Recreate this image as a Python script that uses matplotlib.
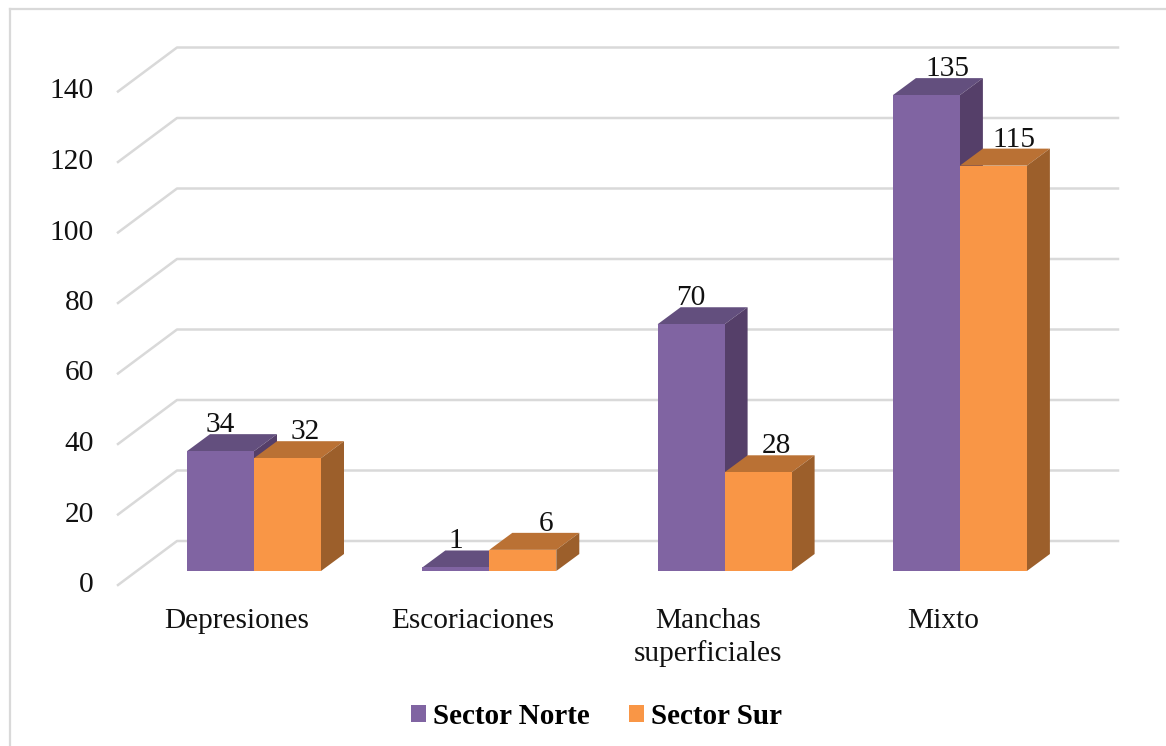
import matplotlib
matplotlib.use("Agg")
import matplotlib.pyplot as plt
from matplotlib.patches import Patch

categories = ["Depresiones", "Escoriaciones", "Manchas\nsuperficiales", "Mixto"]
sector_norte = [34, 1, 70, 135]
sector_sur = [32, 6, 28, 115]
y_ticks = [0, 20, 40, 60, 80, 100, 120, 140]

WIDTH, HEIGHT = 1166, 746
BASE_Y = 571     # pixel row of value 0 on the bar fronts
FIRST_X = 254    # pixel column of the first category centre
CAT_W = 235.3    # pixels per category
VAL_H = 3.525    # pixels per unit of value
FONT_SIZE = 21.2


def px_x(n):
    return n / CAT_W


def px_y(n):
    return n / VAL_H


def draw_bar(ax, x, val, width, front, top, side):
    dx, dy = px_x(23), px_y(17)
    left, right = x - width / 2, x + width / 2
    ax.fill([left, right, right + dx, left + dx],
            [val, val, val + dy, val + dy], color=top, lw=0, zorder=3)
    ax.fill([right, right + dx, right + dx, right],
            [0, dy, val + dy, val], color=side, lw=0, zorder=3)
    ax.bar(x, val, width, color=front, lw=0, zorder=3)


plt.rcParams["font.family"] = ["Liberation Serif", "DejaVu Serif"]
fig = plt.figure(figsize=(WIDTH / 100, HEIGHT / 100), dpi=100)
ax = fig.add_axes([0, 0, 1, 1])
ax.set_xlim(-FIRST_X / CAT_W, (WIDTH - FIRST_X) / CAT_W)
ax.set_ylim((BASE_Y - HEIGHT) / VAL_H, BASE_Y / VAL_H)
ax.axis("off")

# outer chart frame, only left and top are inside the picture
frame = "#D9D9D9"
ax.plot([px_x(10 - FIRST_X)] * 2, [px_y(BASE_Y - HEIGHT), px_y(BASE_Y - 9)], color=frame, lw=1.6)
ax.plot([px_x(10 - FIRST_X), px_x(WIDTH - FIRST_X)], [px_y(BASE_Y - 9)] * 2, color=frame, lw=1.6)

# back wall gridlines and the diagonal run along the side wall
wall_left = px_x(177 - FIRST_X)
wall_right = px_x(1118 - FIRST_X)
wall_up = px_y(30)
for t in y_ticks:
    ax.plot([px_x(118 - FIRST_X), wall_left, wall_right],
            [t + wall_up - px_y(44), t + wall_up, t + wall_up],
            color=frame, lw=1.8, zorder=1)
    ax.text(px_x(94 - FIRST_X), t + wall_up - px_y(44), str(t),
            ha="right", va="center", fontsize=FONT_SIZE, color="#111111")

bar_w = 67 / CAT_W
label_shift_norte = [0, 0, 0, 21]
label_shift_sur = [18, 23, 18, 21]
for i, (a, b) in enumerate(zip(sector_norte, sector_sur)):
    draw_bar(ax, i - bar_w / 2, a, bar_w, "#8064A2", "#634F7E", "#553F69")
    draw_bar(ax, i + bar_w / 2, b, bar_w, "#F99646", "#BA7134", "#9C5F2B")
    ax.text(i - bar_w / 2 + px_x(label_shift_norte[i]), a + px_y(19), str(a),
            ha="center", va="baseline", fontsize=FONT_SIZE, color="#111111", zorder=4)
    ax.text(i + bar_w / 2 + px_x(label_shift_sur[i]), b + px_y(19), str(b),
            ha="center", va="baseline", fontsize=FONT_SIZE, color="#111111", zorder=4)
    ax.text(i - px_x(17), px_y(BASE_Y - 608), categories[i], ha="center", va="top",
            fontsize=FONT_SIZE, color="#111111", linespacing=1.29)

handles = [Patch(color="#8064A2", lw=0, label="Sector Norte"),
           Patch(color="#F99646", lw=0, label="Sector Sur")]
ax.legend(handles=handles, loc="center", bbox_to_anchor=(596.5 / WIDTH, 1 - 716 / HEIGHT),
          ncol=2, frameon=False, handlelength=0.51, handleheight=0.51, handletextpad=0.24,
          columnspacing=1.37, prop={"weight": "bold", "size": 21})

fig.savefig("out.png", dpi=100)
